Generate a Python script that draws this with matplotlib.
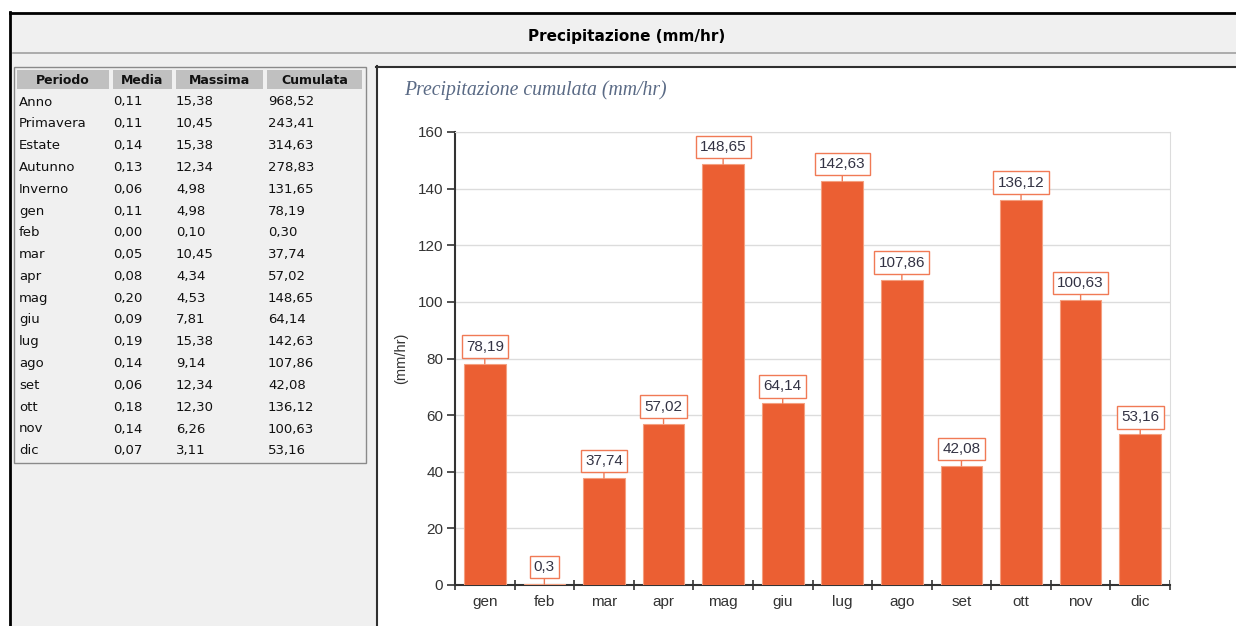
import matplotlib
matplotlib.use("Agg")
import matplotlib.pyplot as plt
from matplotlib.patches import Rectangle

# tabella di sinistra
periodi = ["Anno", "Primavera", "Estate", "Autunno", "Inverno", "gen", "feb", "mar", "apr",
           "mag", "giu", "lug", "ago", "set", "ott", "nov", "dic"]
media = ["0,11", "0,11", "0,14", "0,13", "0,06", "0,11", "0,00", "0,05", "0,08",
         "0,20", "0,09", "0,19", "0,14", "0,06", "0,18", "0,14", "0,07"]
massima = ["15,38", "10,45", "15,38", "12,34", "4,98", "4,98", "0,10", "10,45", "4,34",
           "4,53", "7,81", "15,38", "9,14", "12,34", "12,30", "6,26", "3,11"]
cumulata = ["968,52", "243,41", "314,63", "278,83", "131,65", "78,19", "0,30", "37,74", "57,02",
            "148,65", "64,14", "142,63", "107,86", "42,08", "136,12", "100,63", "53,16"]
intestazioni = ["Periodo", "Media", "Massima", "Cumulata"]

# grafico
mesi = ["gen", "feb", "mar", "apr", "mag", "giu", "lug", "ago", "set", "ott", "nov", "dic"]
valori = [78.19, 0.3, 37.74, 57.02, 148.65, 64.14, 142.63, 107.86, 42.08, 136.12, 100.63, 53.16]

W, H = 1236, 626
fig = plt.figure(figsize=(W / 100, H / 100), dpi=100)
fig.patch.set_facecolor("white")

bg = fig.add_axes([0, 0, 1, 1])
bg.set_xlim(0, W)
bg.set_ylim(H, 0)
bg.axis("off")

# pagina
bg.add_patch(Rectangle((10, 12), W, H, fc="#f0f0f0", ec="none"))
bg.plot([10, W], [12.5, 12.5], color="black", lw=2)
bg.plot([10, 10], [12, H], color="black", lw=2)
bg.plot([13, W], [52.5, 52.5], color="#a0a0a0", lw=1.2)
bg.text(627, 36, "Precipitazione (mm/hr)", ha="center", va="center",
        fontsize=11, fontweight="bold", family="DejaVu Sans", color="black")

# pannello grafico
bg.add_patch(Rectangle((376, 66), W - 376, H - 66, fc="white", ec="none"))
bg.plot([376, W], [66.5, 66.5], color="#303030", lw=1.5)
bg.plot([376.5, 376.5], [66, H], color="#303030", lw=1.5)

# tabella
bg.add_patch(Rectangle((14, 66.5), 352, 396, fc="none", ec="#8a8a8a", lw=1))
celle = [(17, 109), (113, 172), (176, 263), (267, 362)]
for (x0, x1), t in zip(celle, intestazioni):
    bg.add_patch(Rectangle((x0, 70), x1 - x0, 19, fc="#c0c0c0", ec="none"))
    bg.text((x0 + x1) / 2, 80, t, ha="center", va="center", fontsize=9,
            fontweight="bold", family="DejaVu Sans", color="#111111")
col_x = [19, 113, 176, 268]
for i in range(len(periodi)):
    y = 102 + i * 21.8
    for x, col in zip(col_x, [periodi, media, massima, cumulata]):
        bg.text(x, y, col[i], ha="left", va="center", fontsize=9.5,
                family="DejaVu Sans", color="#111111")

# titolo grafico
bg.text(404, 90, "Precipitazione cumulata (mm/hr)", ha="left", va="center",
        fontsize=14.2, fontstyle="italic", family="Liberation Serif", color="#5a6a85")

ax = fig.add_axes([455 / W, (H - 585) / H, 715 / W, (585 - 132) / H])
x = list(range(len(mesi)))
ax.bar(x, valori, width=0.7, color="#eb5f33", edgecolor="#f4a080", linewidth=0.8, zorder=3)
ax.set_xlim(-0.5, len(mesi) - 0.5)
ax.set_ylim(0, 160)
ax.set_yticks(range(0, 161, 20))
ax.set_xticks(x)
ax.set_xticklabels(mesi)
ax.set_xticks([i - 0.5 for i in range(len(mesi) + 1)], minor=True)
ax.tick_params(axis="x", which="major", length=0, pad=7, labelsize=11, labelcolor="#333333")
ax.tick_params(axis="x", which="minor", direction="inout", length=7, width=1.2, color="#333333")
ax.tick_params(axis="y", direction="out", length=6, width=1.2, color="#333333",
               pad=2.5, labelsize=11, labelcolor="#333333")
for lab in ax.get_xticklabels() + ax.get_yticklabels():
    lab.set_family("Liberation Sans")
ax.grid(axis="y", color="#dcdcdc", lw=1, zorder=0)
ax.spines["left"].set_color("#333333")
ax.spines["left"].set_linewidth(1.5)
ax.spines["bottom"].set_color("#333333")
ax.spines["bottom"].set_linewidth(1.5)
ax.spines["top"].set_color("#dcdcdc")
ax.spines["right"].set_color("#dcdcdc")
ax.set_ylabel("(mm/hr)", fontsize=10.5, family="Liberation Sans", color="#333333", labelpad=7)

for i, v in zip(x, valori):
    ax.annotate(f"{v:g}".replace(".", ","), xy=(i, v), xytext=(0, 10), textcoords="offset pixels",
                ha="center", va="bottom", fontsize=11, family="Liberation Sans", color="#333344",
                bbox=dict(boxstyle="square,pad=0.28", fc="white", ec="#f07a55", lw=1),
                arrowprops=dict(arrowstyle="-", color="#f07a55", lw=1, shrinkA=0, shrinkB=0),
                zorder=4)

fig.savefig("out.png", dpi=100)
